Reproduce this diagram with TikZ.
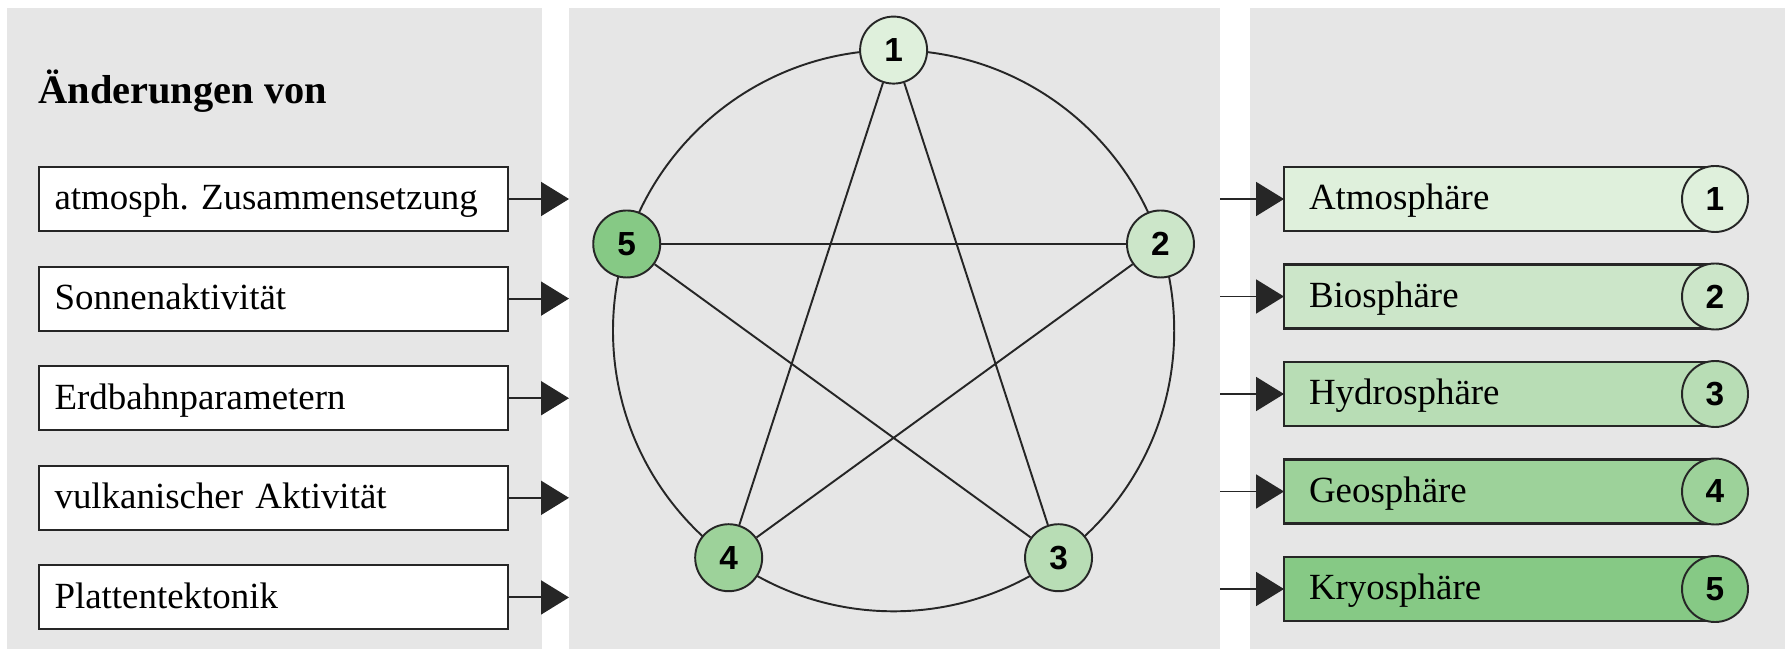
\documentclass[tikz,border=0pt]{standalone}
\usepackage{fontspec}
\setmainfont{Liberation Serif}
\newfontfamily\numfont{Liberation Sans}
\usepackage{xcolor}
\usetikzlibrary{arrows.meta, positioning}

\definecolor{panelgray}{HTML}{E6E6E6}
\definecolor{sphA}{HTML}{DFF0DC}
\definecolor{sphB}{HTML}{CCE6C9}
\definecolor{sphC}{HTML}{B8DDB5}
\definecolor{sphD}{HTML}{9DD29A}
\definecolor{sphE}{HTML}{86C985}

\begin{document}
\begin{tikzpicture}[
    x=0.2mm, y=0.2mm,
    node distance = 6.7mm and 5mm,
    panel/.style = {rectangle, fill=panelgray, anchor=south west, minimum height=128.2mm, inner sep=0pt, outer sep=0pt},
    cause/.style = {rectangle, draw=black!85, line width=1.2pt, fill=white, text width=87.6mm, inner xsep=3.1mm, minimum height=12.8mm, align=left, font=\fontsize{21}{25}\selectfont, execute at begin node=\vphantom{Äg}},
    sphere/.style = {rectangle, text width=76.2mm, inner xsep=5mm, minimum height=12.8mm, outer sep=0pt, align=left, font=\fontsize{21}{25}\selectfont, execute at begin node=\vphantom{Äg}},
    edge/.style = {draw=black!85, line width=1.2pt},
    num/.style = {circle, draw=black!85, line width=1.1pt, minimum size=13.2mm, inner sep=0pt, font=\numfont\bfseries\fontsize{19}{22}\selectfont},
    star/.style = {circle, draw=black!85, line width=1.1pt, minimum size=13.4mm, inner sep=0pt, font=\numfont\bfseries\fontsize{19}{22}\selectfont},
    arr/.style = {draw=black!85, line width=1.1pt, -{Triangle[length=5.6mm, width=6.8mm]}}
]
    \useasboundingbox (0,0) rectangle (1785,649);

    % Hintergrundfelder
    \node [panel, minimum width=107mm] (leftp) at (7,0) {};
    \node [panel, minimum width=130.2mm] (midp) at (569,0) {};
    \node [panel, minimum width=107mm] (rightp) at (1250,0) {};

    % Ursachen
    \node [anchor=west, inner sep=0pt, font=\bfseries\fontsize{23}{27}\selectfont] (title) at (38,558) {Änderungen von};
    \node [cause, anchor=west] (comp) at (38,450) {atmosph.\ Zusammensetzung};
    \node [cause, below=of comp] (sun) {Sonnenaktivität};
    \node [cause, below=of sun] (orbit) {Erdbahnparametern};
    \node [cause, below=of orbit] (volc) {vulkanischer Aktivität};
    \node [cause, below=of volc] (plate) {Plattentektonik};

    \draw [arr] (comp.east) -- (comp.east -| midp.west);
    \draw [arr] (sun.east) -- (sun.east -| midp.west);
    \draw [arr] (orbit.east) -- (orbit.east -| midp.west);
    \draw [arr] (volc.east) -- (volc.east -| midp.west);
    \draw [arr] (plate.east) -- (plate.east -| midp.west);

    % Pentagramm
    \coordinate (ctr) at (893.6,318.3);
    \draw [edge, line width=1.1pt] (ctr) circle [radius=56.12mm];
    \node [star, fill=sphA] (s1) at ([shift={(90:280.6)}]ctr) {1};
    \node [star, fill=sphB] (s2) at ([shift={(18:280.6)}]ctr) {2};
    \node [star, fill=sphC] (s3) at ([shift={(-54:280.6)}]ctr) {3};
    \node [star, fill=sphD] (s4) at ([shift={(-126:280.6)}]ctr) {4};
    \node [star, fill=sphE] (s5) at ([shift={(162:280.6)}]ctr) {5};

    \draw [edge, line width=1.1pt] (s1) -- (s3);
    \draw [edge, line width=1.1pt] (s1) -- (s4);
    \draw [edge, line width=1.1pt] (s2) -- (s4);
    \draw [edge, line width=1.1pt] (s2) -- (s5);
    \draw [edge, line width=1.1pt] (s3) -- (s5);

    % Sphaeren
    \node [sphere, anchor=west, fill=sphA] (atm) at (1284,450) {Atmosphäre};
    \node [sphere, below=of atm, fill=sphB] (bio) {Biosphäre};
    \node [sphere, below=of bio, fill=sphC] (hydro) {Hydrosphäre};
    \node [sphere, below=of hydro, fill=sphD] (geo) {Geosphäre};
    \node [sphere, below=of geo, fill=sphE] (kryo) {Kryosphäre};

    \draw [edge] (atm.north east) -- (atm.north west) -- (atm.south west) -- (atm.south east);
    \draw [edge] (bio.north east) -- (bio.north west) -- (bio.south west) -- (bio.south east);
    \draw [edge] (hydro.north east) -- (hydro.north west) -- (hydro.south west) -- (hydro.south east);
    \draw [edge] (geo.north east) -- (geo.north west) -- (geo.south west) -- (geo.south east);
    \draw [edge] (kryo.north east) -- (kryo.north west) -- (kryo.south west) -- (kryo.south east);

    \node [num, fill=sphA] (atmn) at (atm.east) {1};
    \node [num, fill=sphB] (bion) at (bio.east) {2};
    \node [num, fill=sphC] (hydron) at (hydro.east) {3};
    \node [num, fill=sphD] (geon) at (geo.east) {4};
    \node [num, fill=sphE] (kryon) at (kryo.east) {5};

    \draw [arr] (atm.west -| midp.east) -- (atm.west);
    \draw [arr] (bio.west -| midp.east) -- (bio.west);
    \draw [arr] (hydro.west -| midp.east) -- (hydro.west);
    \draw [arr] (geo.west -| midp.east) -- (geo.west);
    \draw [arr] (kryo.west -| midp.east) -- (kryo.west);
\end{tikzpicture}
\end{document}
